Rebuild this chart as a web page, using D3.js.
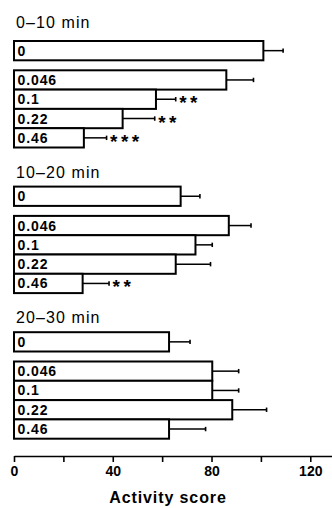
<!DOCTYPE html>
<html>
<head>
<meta charset="utf-8">
<script src="https://cdn.jsdelivr.net/npm/d3@7"></script>
<style>
  body { margin: 0; background: #fff; }
  svg { display: block; font-family: "Liberation Sans", Arial, sans-serif; }
</style>
</head>
<body>
<div id="chart"></div>
<script>
// data
const periods = ['0\u201310 min', '10\u201320 min', '20\u201330 min'];
const doses = ['0', '0.046', '0.1', '0.22', '0.46'];
const means = [
    [101, 86, 57.5, 44, 28.3],
    [67.5, 87, 73.5, 65.5, 27.8],
    [62.8, 80.3, 80.3, 88.4, 62.8]
];
const errors = [
    [8, 11, 8, 13, 9.2],
    [7.8, 9, 6.8, 14.1, 10.7],
    [8.5, 10.7, 10.7, 13.9, 14.8]
];
const stars = [
    ['', '', '**', '**', '***'],
    ['', '', '', '', '**'],
    ['', '', '', '', '']
];
const tickValues = [0, 20, 40, 60, 80, 100, 120];
const xLabel = 'Activity score';

const width = 332, height = 508;
const svg = d3.select('#chart').append('svg')
    .attr('width', width)
    .attr('height', height);

const xScale = d3.scaleLinear()
    .domain([0, 128.8])
    .range([14, 332]);

// groups stacked vertically
const groupScale = d3.scaleBand()
    .domain(periods)
    .range([41, 41 + 3 * 145.6]);

// bars inside a group, with a gap after the control bar
const barH = 19.3;
const gap = 10;
const yBand = d3.scaleBand()
    .domain(doses)
    .range([0, doses.length * barH]);
const yPos = d => yBand(d) + (d === '0' ? 0 : gap);

const groups = svg.selectAll('g.group')
    .data(periods)
    .join('g')
    .attr('class', 'group')
    .attr('transform', d => `translate(0,${groupScale(d)})`);

groups.append('text')
    .attr('x', 16)
    .attr('y', (d, i) => i === 0 ? -13 : -9)
    .attr('font-size', 16)
    .attr('letter-spacing', 1.1)
    .text(d => d);

const rows = groups.selectAll('g.row')
    .data((p, gi) => doses.map((d, i) => ({
        dose: d, mean: means[gi][i], err: errors[gi][i], star: stars[gi][i]
    })))
    .join('g')
    .attr('class', 'row')
    .attr('transform', d => `translate(0,${yPos(d.dose)})`);

// error bars (drawn first so bar border covers the start)
rows.append('line')
    .attr('x1', d => xScale(d.mean))
    .attr('x2', d => xScale(d.mean + d.err))
    .attr('y1', barH / 2)
    .attr('y2', barH / 2)
    .attr('stroke', '#000')
    .attr('stroke-width', 1.5);

rows.append('line')
    .attr('x1', d => xScale(d.mean + d.err))
    .attr('x2', d => xScale(d.mean + d.err))
    .attr('y1', barH / 2 - 2.2)
    .attr('y2', barH / 2 + 2.2)
    .attr('stroke', '#000')
    .attr('stroke-width', 1.6);

rows.append('rect')
    .attr('x', xScale(0))
    .attr('y', 0)
    .attr('width', d => xScale(d.mean) - xScale(0))
    .attr('height', barH)
    .attr('fill', '#fff')
    .attr('stroke', '#000')
    .attr('stroke-width', 2);

rows.append('text')
    .attr('x', xScale(0) + 3.5)
    .attr('y', barH / 2 + 5)
    .attr('font-size', 14)
    .attr('font-weight', 'bold')
    .attr('letter-spacing', 0.9)
    .text(d => d.dose);

// significance stars
rows.append('text')
    .attr('x', d => xScale(d.mean + d.err) + 3.5)
    .attr('y', barH / 2 + 10)
    .attr('font-size', 19)
    .attr('font-weight', 'bold')
    .attr('letter-spacing', 3.5)
    .text(d => d.star);

// x axis
const xAxis = d3.axisBottom(xScale)
    .tickValues(tickValues)
    .tickSize(6)
    .tickSizeOuter(0)
    .tickFormat(d => d % 40 === 0 ? d : '');

const xAxisG = svg.append('g')
    .attr('transform', 'translate(0,456)')
    .call(xAxis);

xAxisG.select('.domain').attr('stroke-width', 1.6);
xAxisG.selectAll('.tick line').attr('stroke-width', 1.6);
xAxisG.selectAll('.tick text')
    .attr('y', 10)
    .attr('font-size', 14)
    .attr('font-weight', 'bold')
    .attr('font-family', '"Liberation Sans", Arial, sans-serif')
    .attr('fill', '#000');

svg.append('text')
    .attr('x', 168)
    .attr('y', 503)
    .attr('text-anchor', 'middle')
    .attr('font-size', 16)
    .attr('font-weight', 'bold')
    .attr('letter-spacing', 0.9)
    .text(xLabel);
</script>
</body>
</html>
